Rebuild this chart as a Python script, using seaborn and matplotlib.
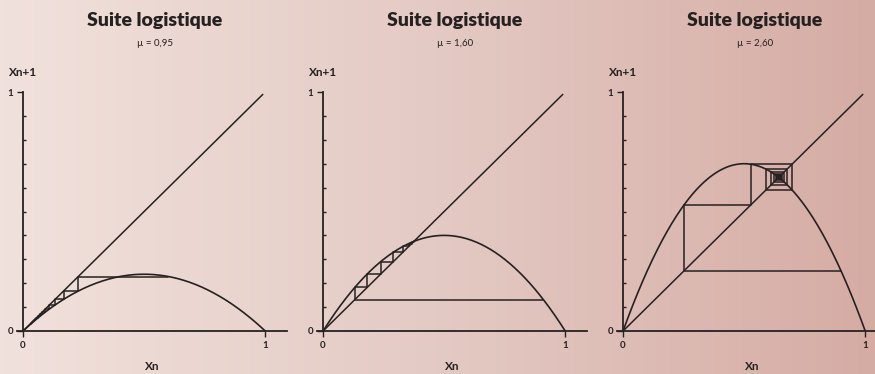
import matplotlib
matplotlib.use("Agg")
import matplotlib.pyplot as plt
import numpy as np
import pandas as pd
import seaborn as sns

# growth rates as labelled, and as read from the drawn parabolas
mu_labels = ["µ = 0,95", "µ = 1,60", "µ = 2,60"]
mu_drawn = [0.95, 1.60, 2.80]
x_starts = [0.60, 0.91, 0.90]
n_steps = [14, 12, 60]

title = "Suite logistique"
x_label = "Xn"
y_label = "Xn+1"
ink = "#262121"


def cobweb(mu, x0, n):
    xs, ys = [x0], [mu * x0 * (1 - x0)]
    x = x0
    for _ in range(n):
        y = mu * x * (1 - x)
        xs += [y, y]
        ys += [y, mu * y * (1 - y)]
        x = y
    return pd.DataFrame({"x": xs, "y": ys})


sns.set_theme(style="white")
plt.rcParams["font.family"] = ["Lato", "DejaVu Sans"]

fig = plt.figure(figsize=(8.75, 3.74), dpi=100)

# background gradient, light pink to dusty rose
bg = fig.add_axes([0, 0, 1, 1], zorder=-10)
grad = np.linspace(0, 1, 256)[None, :]
cmap = matplotlib.colors.LinearSegmentedColormap.from_list(
    "bg", ["#f1e1dc", "#e4cac4", "#d5aca4"])
bg.imshow(grad, aspect="auto", cmap=cmap, extent=[0, 1, 0, 1])
bg.axis("off")

W, H = 875, 374
lefts = [17, 317, 617]
grid_x = np.linspace(0, 1, 200)

for i, left in enumerate(lefts):
    ax = fig.add_axes([left / W, (H - 331) / H, 270 / W, 239 / H])
    ax.patch.set_alpha(0)
    mu = mu_drawn[i]

    curve = pd.DataFrame({"x": grid_x, "y": mu * grid_x * (1 - grid_x)})
    sns.lineplot(data=curve, x="x", y="y", ax=ax, color=ink, lw=1.2)
    sns.lineplot(x=[0, 0.99], y=[0, 0.99], ax=ax, color=ink, lw=1.1)
    sns.lineplot(data=cobweb(mu, x_starts[i], n_steps[i]), x="x", y="y",
                 ax=ax, sort=False, estimator=None, color=ink, lw=1.1)

    ax.set_xlim(-0.025, 1.09)
    ax.set_ylim(0, 1)
    for side in ("top", "right"):
        ax.spines[side].set_visible(False)
    for side in ("left", "bottom"):
        ax.spines[side].set_color(ink)
        ax.spines[side].set_linewidth(1.3)
    ax.spines["left"].set_position(("data", 0))
    ax.spines["left"].set_bounds(0, 1)

    ax.set_xticks([0, 1])
    ax.set_yticks([0, 1])
    ax.set_xticklabels(["0", "1"], fontsize=7, fontweight="bold", color=ink)
    ax.set_yticklabels(["0", "1"], fontsize=7, fontweight="bold", color=ink)
    ax.set_yticks(np.arange(0.1, 1.0, 0.1), minor=True)
    ax.tick_params(axis="both", which="major", direction="out", length=4,
                   width=1, color=ink, pad=3, left=True, bottom=True)
    ax.tick_params(axis="y", which="minor", direction="in", length=2,
                   width=1, color=ink, left=True)

    ax.set_xlabel(x_label, fontsize=8.5, fontweight="bold", color=ink,
                  labelpad=8)
    ax.set_ylabel(y_label, fontsize=8.5, fontweight="bold", color=ink,
                  rotation=0, ha="left", va="center")
    ax.yaxis.set_label_coords(-0.03, 1.08)

    ax.text(0.51, 1.30, title, transform=ax.transAxes, ha="center",
            va="center", fontsize=14, fontweight="heavy", color=ink)
    ax.text(0.51, 1.205, mu_labels[i], transform=ax.transAxes, ha="center",
            va="center", fontsize=7, color=ink)

fig.savefig("out.png", dpi=100)
plt.close(fig)
